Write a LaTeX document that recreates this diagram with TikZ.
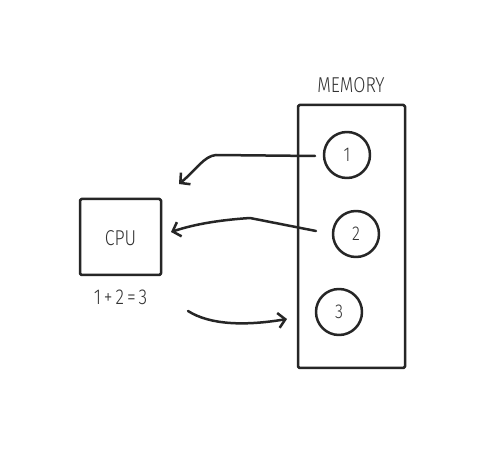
\documentclass[tikz,border=0pt]{standalone}
\usepackage{fontspec}
\setmainfont{Fira Sans}[UprightFont={* Light}]
\usetikzlibrary{arrows.meta}
\newcommand{\cond}[1]{\scalebox{0.82}[1]{#1}}
\tikzset{
  ink/.style={line width=2.5pt, line cap=round, line join=round, draw=black!85},
  conn/.style={ink, -{Straight Barb[length=7pt,width=15pt,line width=2.5pt]}},
  lbl/.style={font=\fontsize{21.5}{24}\selectfont, text=black!80, inner sep=0pt},
  num/.style={font=\fontsize{20}{22}\selectfont, text=black!80, inner sep=0pt},
  cell/.style={ink, circle, minimum size=46pt, inner sep=0pt}
}
\begin{document}
\begin{tikzpicture}[x=1pt,y=-1pt]
\useasboundingbox (0,0) rectangle (491,449);
\fill[white] (0,0) rectangle (491,449);
% CPU
\draw[ink, rounded corners=1.5pt] (80,199) rectangle (161,275);
\node[lbl] (cpu) at (120.5,238) {\cond{CPU}};
\node[lbl] (sum) at (120.5,297) {\cond{1\,+\,2\,=\,3}};
% Memory
\draw[ink, rounded corners=1.5pt] (298,105) rectangle (405,368);
\node[lbl] (mem) at (351,85) {\cond{MEMORY}};
\node[cell] (c1) at (347,155) {};
\node[num] at (c1) {\cond{1}};
\node[cell] (c2) at (356,234) {};
\node[num] at (c2) {\cond{2}};
\node[cell] (c3) at (339,312) {};
\node[num] at (c3) {\cond{3}};
% connector ends
\coordinate (a1s) at (315,156);
\coordinate (a1t) at (179,184);
\coordinate (a2s) at (316,231);
\coordinate (a2t) at (171,232);
\coordinate (a3s) at (188,311);
\coordinate (a3t) at (287,319);
\draw[conn] (a1s) -- (216,155) .. controls (204,156) and (196,170) .. (a1t);
\draw[conn] (a2s) -- (250,218) .. controls (220,220) and (195,224) .. (a2t);
\draw[conn] (a3s) .. controls (210,325) and (245,326) .. (a3t);
\end{tikzpicture}
\end{document}
